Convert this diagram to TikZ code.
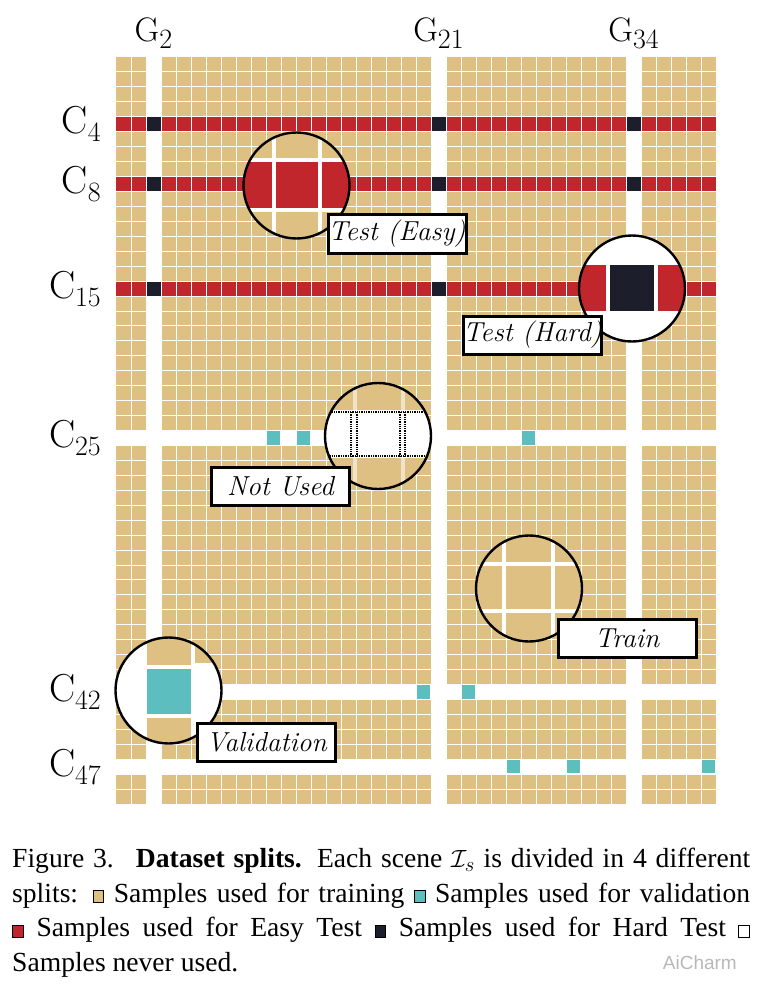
\documentclass[tikz,border=0pt]{standalone}
\usepackage{fontspec}
\newfontfamily\capfont{Liberation Serif}
\newfontfamily\markfont{Liberation Sans}
\usetikzlibrary{positioning}

\definecolor{trainTan}{RGB}{222,192,131}
\definecolor{easyRed}{RGB}{192,38,44}
\definecolor{hardNavy}{RGB}{28,30,44}
\definecolor{valCyan}{RGB}{92,190,190}

\newcommand{\rowname}[1]{\fontsize{39}{39}\selectfont C\raisebox{-8pt}{\fontsize{28}{28}\selectfont #1}}
\newcommand{\colname}[1]{\fontsize{34}{34}\selectfont G\raisebox{-7pt}{\fontsize{28}{28}\selectfont #1}}
\newcommand{\splitbox}[1]{{\setlength{\fboxsep}{0pt}\setlength{\fboxrule}{0.9pt}\fcolorbox{black}{#1}{\rule{0pt}{11pt}\rule{10pt}{0pt}}}}

\begin{document}
\begin{tikzpicture}[
	x=1pt, y=-1pt,
	gridline/.style={white, line width=0.9pt},
	lens/.style={circle, draw=black, line width=2.4pt, minimum size=106pt, inner sep=0pt},
	magline/.style={white, line width=4pt},
	holeline/.style={black, densely dotted, line width=1.3pt},
	tagbox/.style={draw=black, fill=white, line width=3pt, minimum width=138pt, minimum height=38pt, inner sep=0pt, font=\fontsize{27.5}{27.5}\selectfont\itshape},
	rowlabel/.style={anchor=base east, inner sep=0pt},
	collabel/.style={anchor=base, inner sep=0pt}
]
\useasboundingbox (0,0) rectangle (762,992);

% Sample grid: 40 groups by 50 classes.
\begin{scope}[shift={(116,57)}, x=15pt, y=-14.94pt]
	\fill[trainTan] (0,0) rectangle (40,50);
	\foreach \r in {4,8,15} {
		\fill[easyRed] (0,\r) rectangle (40,\r+1);
	}
	\foreach \c in {2,21,34} {
		\fill[white] (\c,0) rectangle (\c+1,50);
	}
	\foreach \r in {25,42,47} {
		\fill[white] (0,\r) rectangle (40,\r+1);
	}
	\foreach \c in {2,21,34} {
		\foreach \r in {4,8,15} {
			\fill[hardNavy] (\c,\r) rectangle (\c+1,\r+1);
		}
	}
	\foreach \c in {1,...,39} {
		\draw[gridline] (\c,0) -- (\c,50);
	}
	\foreach \r in {1,...,49} {
		\draw[gridline] (0,\r) -- (40,\r);
	}
	\foreach \c/\r in {10/25,12/25,27/25,20/42,23/42,26/47,30/47,39/47} {
		\fill[valCyan] (\c+0.05,\r+0.05) rectangle (\c+0.95,\r+0.95);
	}
\end{scope}

% Axis names.
\foreach \c in {2,21,34} {
	\node[collabel] (G\c) at ({116+15*\c+7.5},42) {\colname{\c}};
}
\foreach \r in {4,8,15,25,42,47} {
	\node[rowlabel] (C\r) at (101,{57+(\r+1)*14.94+2}) {\rowname{\r}};
}

% Magnified views.
\begin{scope}
	\clip (296.5,185.5) circle[radius=53];
	\fill[trainTan] (240,130) rectangle (355,242);
	\fill[easyRed] (240,160) rectangle (355,210);
	\draw[magline] (240,160) -- (355,160) (240,210) -- (355,210)
		(273.5,130) -- (273.5,242) (320,130) -- (320,242);
\end{scope}
\node[lens] (easylens) at (296.5,185.5) {};

\begin{scope}
	\clip (632,288.5) circle[radius=53];
	\fill[white] (575,230) rectangle (690,345);
	\fill[easyRed] (575,265) rectangle (606,311);
	\fill[hardNavy] (610,265) rectangle (654,311);
	\fill[easyRed] (658,265) rectangle (690,311);
\end{scope}
\node[lens] (hardlens) at (632,288.5) {};

\begin{scope}
	\clip (378,436) circle[radius=53];
	\fill[trainTan] (320,378) rectangle (436,494);
	\draw[magline, white!55!trainTan] (354.5,378) -- (354.5,494) (402.5,378) -- (402.5,494);
	\fill[white] (320,410) rectangle (436,458);
	\draw[holeline] (320,412) -- (436,412) (320,456) -- (436,456);
	\foreach \x in {351,357,400,405} {
		\draw[holeline] (\x,412) -- (\x,456);
	}
\end{scope}
\node[lens] (unusedlens) at (378,436) {};

\begin{scope}
	\clip (168.5,690.5) circle[radius=53];
	\fill[white] (110,632) rectangle (227,749);
	\fill[trainTan] (147,632) rectangle (191,665);
	\fill[trainTan] (195,632) rectangle (227,663);
	\fill[valCyan] (147,669) rectangle (191,714);
	\fill[trainTan] (147,718) rectangle (191,749);
\end{scope}
\node[lens] (validlens) at (168.5,690.5) {};

\begin{scope}
	\clip (529,588.5) circle[radius=53];
	\fill[trainTan] (470,530) rectangle (590,650);
	\draw[magline] (470,564) -- (590,564) (470,611) -- (590,611)
		(503.5,530) -- (503.5,650) (552.5,530) -- (552.5,650);
\end{scope}
\node[lens] (trainlens) at (529,588.5) {};

% Split tags.
\node[tagbox] (easytag) at (397,234) {Test (Easy)};
\node[tagbox] (hardtag) at (532.5,335) {Test (Hard)};
\node[tagbox] (unusedtag) at (280.5,486) {Not Used};
\node[tagbox] (validtag) at (266.5,742) {Validation};
\node[tagbox] (traintag) at (627,638) {Train};

% Caption.
\node[anchor=north west, text width=738pt, align=justify, inner sep=0pt, font=\capfont\fontsize{27.6}{34.5}\selectfont] (caption) at (12,848) {Figure 3.\hspace{0.25em} \textbf{Dataset splits.} Each scene $\mathcal{I}_s$ is divided in 4 different\linebreak splits: \splitbox{trainTan} Samples used for training \splitbox{valCyan} Samples used for validation\linebreak \splitbox{easyRed} Samples used for Easy Test \splitbox{hardNavy} Samples used for Hard Test \splitbox{white}\linebreak Samples never used.};
\node[anchor=base east, inner sep=0pt, text=black!28, font=\markfont\fontsize{19}{19}\selectfont] (mark) at (737,969) {AiCharm};

\end{tikzpicture}
\end{document}
